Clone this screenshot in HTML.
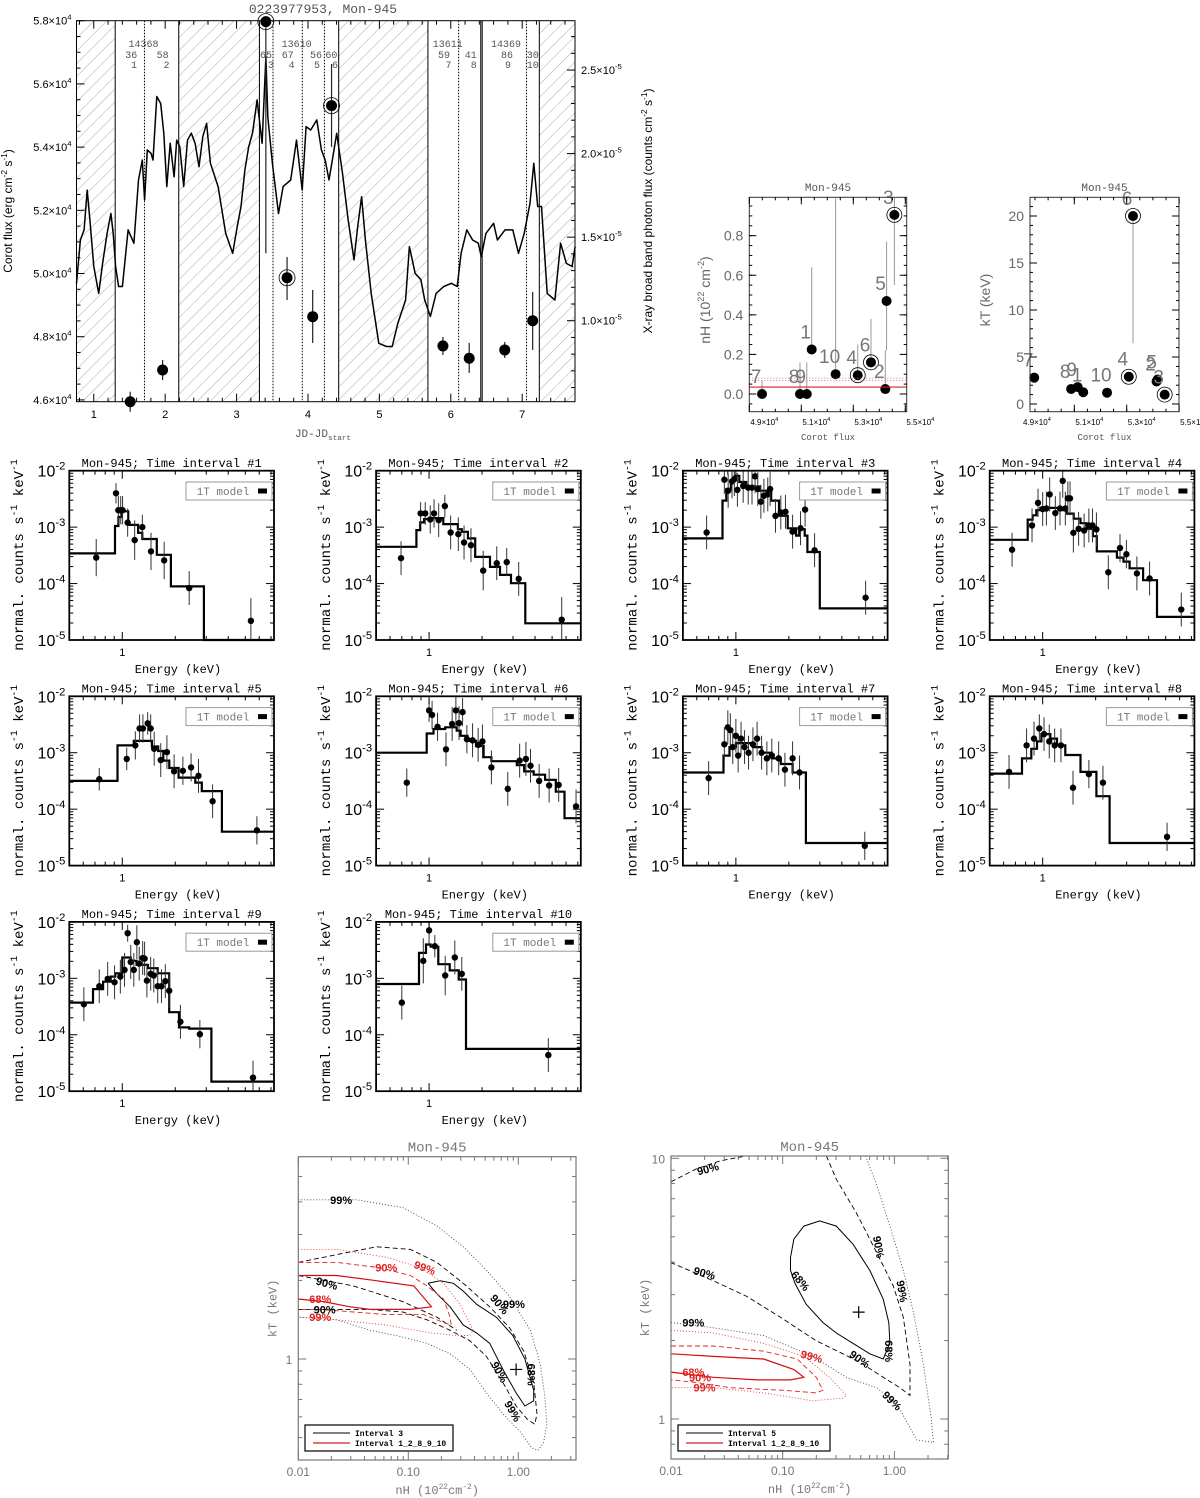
<!DOCTYPE html>
<html><head><meta charset="utf-8"><title>Mon-945</title>
<style>
html,body{margin:0;padding:0;background:#fff;}
svg{display:block;}
text{font-family:"Liberation Mono","DejaVu Sans Mono",monospace;}
.sans{font-family:"Liberation Sans",sans-serif;}
</style></head>
<body>
<svg id="fig" xmlns="http://www.w3.org/2000/svg" width="1200" height="1498" viewBox="0 0 1200 1498">
<defs>
<pattern id="hatch" patternUnits="userSpaceOnUse" width="9" height="9" patternTransform="rotate(45)">
<line x1="0" y1="0" x2="0" y2="9" stroke="#aaa" stroke-width="1"/>
</pattern>
<clipPath id="clipL"><rect x="298.3" y="1156.7" width="277.7" height="303.3"/></clipPath>
<clipPath id="clipR"><rect x="671" y="1156" width="277.3" height="303"/></clipPath>
</defs>
<rect x="0" y="0" width="1200" height="1498" fill="#fff"/>
</svg>
<script>
// ================= LIGHT CURVE DATA =================
const lcDays=[0.758,0.812,0.865,0.908,0.946,1.0,1.069,1.123,1.187,1.24,1.272,1.305,1.347,1.401,1.481,1.562,1.626,1.68,1.712,1.749,1.803,1.83,1.883,1.937,1.98,2.023,2.071,2.125,2.162,2.205,2.259,2.312,2.366,2.419,2.473,2.527,2.58,2.634,2.741,2.848,2.945,3.009,3.062,3.116,3.17,3.223,3.287,3.357,3.41,3.437,3.501,3.587,3.651,3.758,3.839,3.919,3.973,4.038,4.123,4.188,4.241,4.295,4.349,4.402,4.483,4.563,4.644,4.697,4.751,4.804,4.885,4.992,5.099,5.179,5.26,5.367,5.42,5.5,5.581,5.635,5.715,5.795,5.902,6.009,6.09,6.144,6.224,6.305,6.385,6.428,6.492,6.6,6.653,6.76,6.868,6.948,7.029,7.109,7.163,7.217,7.27,7.351,7.458,7.538,7.619,7.699,7.741];
const lcFlux=[4.969,5.106,5.138,5.264,5.169,5.022,4.937,5.032,5.127,5.19,5.127,5.022,4.959,4.959,5.138,5.096,5.296,5.359,5.233,5.391,5.38,5.359,5.56,5.538,5.444,5.275,5.412,5.306,5.422,5.401,5.275,5.422,5.444,5.412,5.338,5.433,5.475,5.349,5.275,5.127,5.064,5.148,5.212,5.328,5.401,5.444,5.549,5.412,5.686,5.496,5.349,5.19,5.275,5.296,5.422,5.264,5.465,5.454,5.486,5.391,5.359,5.296,5.37,5.444,5.317,5.169,5.043,5.148,5.243,5.106,4.937,4.779,4.769,4.769,4.843,4.916,5.085,5.001,4.98,4.916,4.864,4.937,4.959,4.969,4.959,5.064,5.138,5.106,5.096,5.053,5.127,5.159,5.106,5.138,5.138,5.064,5.127,5.222,5.349,5.212,5.212,4.937,4.916,5.096,5.032,5.022,5.085];
const xrDays=[1.51,1.964,3.41,3.707,4.066,4.33,5.89,6.258,6.756,7.147];
const xrRate=[0.515,0.705,2.79,1.257,1.024,2.287,0.849,0.775,0.825,1.0];
const xrLo=[0.455,0.645,1.404,1.124,0.867,2.04,0.795,0.687,0.777,0.825];
const xrHi=[0.575,0.765,2.79,1.381,1.184,2.536,0.903,0.867,0.873,1.172];
const xrCircled=[0,0,1,1,0,1,0,0,0,0];
const hatchStart=[0.758,2.19,4.43,7.24];
const hatchEnd=[1.30,3.32,5.68,7.737];
const solidLines=[1.30,2.19,3.32,4.43,5.68,6.42,6.44,7.24];
const dottedLines=[1.71,3.51,3.92,4.23,6.11,7.06];
const lcXTicks=[1,2,3,4,5,6,7];
const lcYTicks=[4.6,4.8,5.0,5.2,5.4,5.6,5.8];
const lcRTicks=[1.0,1.5,2.0,2.5];

// ================= nH / kT vs Corot flux =================
const nhLabels=['7','8','9','1','10','4','6','2','5','3'];
const nhCorot=[4.949,5.095,5.121,5.14,5.232,5.317,5.368,5.423,5.428,5.458];
const nhVal=[0,0,0,0.225,0.10,0.095,0.16,0.025,0.47,0.905];
const nhLo=[0,0,0,0.225,0.10,0.095,0.16,0.025,0.22,0.55];
const nhHi=[0.07,0.16,0.16,0.64,0.99,0.25,0.38,0.22,0.77,0.99];
const nhCircled=[0,0,0,0,0,1,1,0,0,1];
const nhTicks=[0.0,0.2,0.4,0.6,0.8];
const ktLabels=['7','8','9','1','10','4','6','5','2','3'];
const ktCorot=[4.947,5.088,5.113,5.134,5.225,5.308,5.324,5.418,5.414,5.445];
const ktVal=[2.8,1.6,1.8,1.25,1.2,2.9,20,2.6,2.4,1.0];
const ktLo=[2.3,1.3,1.5,1.0,1.0,2.5,6.45,2.2,2.0,0.9];
const ktHi=[3.3,2.0,2.1,1.5,1.4,3.4,20,3.0,2.8,1.2];
const ktCircled=[0,0,0,0,0,1,1,0,0,1];
const ktTicks=[0,5,10,15,20];
const corotTicks=[4.9,5.1,5.3,5.5];

// ================= SPECTRA (log10 values) =================
const p1E=[0.711,0.921,0.95,0.98,1.004,1.073,1.176,1.3,1.456,1.73,2.4,5.38];
const p1V=[-3.54,-2.40,-2.7,-2.7,-2.7,-2.92,-3.23,-3.0,-3.43,-3.59,-4.08,-4.66];
const p1Err=[0.33,0.18,0.25,0.25,0.25,0.25,0.35,0.22,0.33,0.33,0.3,0.4];
const p1ME=[0.5,0.909,0.95,0.99,1.08,1.23,1.3,1.57,1.89,2.91,7.27];
const p1MV=[-3.465,-2.98,-2.82,-2.72,-2.96,-3.1,-3.21,-3.49,-4.05,-6];
const p2E=[0.693,0.895,0.951,1.015,1.067,1.134,1.229,1.326,1.466,1.58,1.73,2.03,2.424,2.762,3.23,5.67];
const p2V=[-3.55,-2.757,-2.757,-2.864,-2.757,-2.876,-2.627,-3.095,-3.124,-3.272,-3.32,-3.77,-3.64,-3.62,-3.917,-4.64];
const p2Err=[0.3,0.2,0.2,0.25,0.25,0.3,0.2,0.3,0.3,0.3,0.3,0.35,0.3,0.25,0.3,0.4];
const p2ME=[0.5,0.847,0.89,0.937,0.995,1.205,1.458,1.534,1.662,1.828,2.22,2.53,2.92,3.52,7.27];
const p2MV=[-3.349,-3.053,-2.917,-2.858,-2.84,-2.947,-3.036,-3.083,-3.2,-3.527,-3.704,-3.846,-3.994,-4.704];
const p3E=[0.682,0.86,0.904,0.951,0.98,1.02,1.1,1.175,1.235,1.286,1.332,1.387,1.443,1.518,1.565,1.679,1.8,1.913,2.1,2.33,2.473,2.8,5.46];
const p3V=[-3.095,-2.16,-2.355,-2.19,-2.15,-2.34,-2.27,-2.30,-2.30,-2.10,-2.325,-2.55,-2.444,-2.42,-2.325,-2.8,-2.74,-2.728,-3.08,-3.02,-2.69,-3.41,-4.25];
const p3Err=[0.3,0.25,0.3,0.3,0.3,0.3,0.3,0.3,0.3,0.3,0.3,0.3,0.3,0.3,0.3,0.3,0.3,0.3,0.3,0.3,0.3,0.3,0.3];
const p3ME=[0.5,0.839,0.882,0.937,0.985,1.046,1.145,1.366,1.588,1.757,1.97,2.2,2.29,2.46,2.55,3.0,7.27];
const p3MV=[-3.2,-2.53,-2.325,-2.19,-2.09,-2.2,-2.28,-2.355,-2.53,-2.8,-3.02,-3.15,-3.036,-3.15,-3.44,-4.44];
const p4E=[0.67,0.87,0.941,1.0,1.05,1.096,1.18,1.254,1.3,1.345,1.39,1.43,1.494,1.6,1.72,1.83,1.92,2.02,2.36,2.75,2.99,3.43,4.05,6.13];
const p4V=[-3.40,-2.97,-2.57,-2.68,-2.67,-2.42,-2.75,-2.67,-2.18,-2.67,-2.49,-2.49,-3.1,-3.03,-3.06,-2.97,-2.97,-3.04,-3.8,-3.37,-3.48,-3.82,-3.91,-4.46];
const p4Err=[0.3,0.3,0.25,0.3,0.3,0.3,0.3,0.3,0.3,0.3,0.3,0.3,0.35,0.3,0.3,0.3,0.3,0.3,0.3,0.25,0.25,0.3,0.3,0.3];
const p4ME=[0.5,0.822,0.877,0.92,0.97,1.105,1.26,1.375,1.5,1.64,1.77,1.93,2.03,2.64,2.88,3.12,3.72,4.46,7.27];
const p4MV=[-3.225,-2.867,-2.79,-2.70,-2.66,-2.66,-2.70,-2.76,-2.85,-2.93,-3.03,-3.16,-3.43,-3.54,-3.61,-3.73,-3.94,-4.59];
const p5E=[0.74,1.06,1.186,1.254,1.31,1.394,1.45,1.518,1.654,1.793,1.97,2.21,2.46,2.71,3.26,5.82];
const p5V=[-3.47,-3.11,-2.87,-2.57,-2.57,-2.48,-2.57,-2.93,-3.13,-2.99,-3.33,-3.32,-3.26,-3.41,-3.86,-4.375];
const p5Err=[0.2,0.2,0.25,0.25,0.25,0.2,0.25,0.3,0.3,0.3,0.3,0.25,0.25,0.3,0.3,0.25];
const p5ME=[0.5,0.94,1.163,1.473,1.6,1.71,1.85,2.09,2.6,2.83,3.68,7.27];
const p5MV=[-3.5,-2.87,-2.79,-2.89,-2.97,-3.14,-3.27,-3.44,-3.53,-3.68,-4.4];
const p6E=[0.747,1.0,1.04,1.117,1.248,1.352,1.42,1.48,1.55,1.64,1.766,1.9,2.01,2.26,2.8,3.27,3.55,3.77,4.22,4.81,5.45,6.84];
const p6V=[-3.53,-2.25,-2.33,-2.54,-2.94,-2.49,-2.25,-2.475,-2.28,-2.76,-2.78,-2.86,-2.8,-3.26,-3.64,-3.14,-3.11,-3.23,-3.5,-3.58,-3.57,-3.95];
const p6Err=[0.25,0.2,0.25,0.25,0.3,0.3,0.3,0.3,0.25,0.25,0.3,0.3,0.3,0.3,0.3,0.3,0.3,0.3,0.3,0.3,0.3,0.3];
const p6ME=[0.5,0.97,1.06,1.235,1.436,1.51,1.654,1.847,2.04,2.26,3.15,3.47,3.93,4.56,5.25,5.88,7.27];
const p6MV=[-3.0,-2.66,-2.58,-2.55,-2.61,-2.7,-2.79,-2.88,-3.08,-3.15,-3.22,-3.33,-3.39,-3.48,-3.69,-4.16];
const p7E=[0.7,0.86,0.9,0.93,0.96,1.0,1.03,1.07,1.12,1.18,1.25,1.32,1.4,1.5,1.6,1.75,1.9,2.1,2.3,5.4];
const p7V=[-3.45,-2.85,-2.55,-2.6,-2.9,-2.7,-3.05,-2.75,-2.9,-3.0,-2.85,-2.75,-3.0,-3.1,-3.05,-3.1,-3.3,-3.1,-3.35,-4.65];
const p7Err=[0.3,0.3,0.3,0.3,0.3,0.3,0.3,0.3,0.3,0.3,0.3,0.3,0.3,0.3,0.3,0.3,0.3,0.3,0.3,0.25];
const p7ME=[0.5,0.85,0.92,1.0,1.25,1.4,1.6,1.8,2.1,2.5,7.27];
const p7MV=[-3.35,-3.05,-2.9,-2.83,-2.9,-3.0,-3.1,-3.2,-3.35,-4.6];
const p8E=[0.644,0.81,0.893,0.957,1.018,1.09,1.17,1.27,1.487,1.83,2.2,5.09];
const p8V=[-3.34,-2.87,-2.75,-2.57,-2.67,-2.80,-2.87,-2.87,-3.62,-3.38,-3.53,-4.49];
const p8Err=[0.3,0.3,0.3,0.25,0.3,0.3,0.3,0.3,0.3,0.25,0.3,0.25];
const p8ME=[0.5,0.763,0.862,0.929,0.983,1.105,1.206,1.345,1.64,2.02,2.4,7.27];
const p8MV=[-3.37,-3.1,-2.93,-2.80,-2.67,-2.75,-2.87,-3.04,-3.34,-3.77,-4.6];
const p9E=[0.605,0.74,0.826,0.904,0.975,1.03,1.073,1.117,1.163,1.21,1.248,1.306,1.339,1.38,1.45,1.51,1.59,1.67,1.756,1.848,2.14,2.76,5.53];
const p9V=[-3.46,-3.14,-3.01,-3.07,-2.97,-2.85,-2.2,-2.71,-2.85,-2.36,-2.74,-2.64,-2.65,-3.04,-2.92,-2.95,-3.14,-3.14,-3.05,-3.22,-3.77,-3.99,-4.76];
const p9Err=[0.3,0.3,0.3,0.3,0.3,0.3,0.15,0.3,0.3,0.3,0.3,0.3,0.3,0.3,0.3,0.3,0.3,0.3,0.3,0.3,0.3,0.25,0.3];
const p9ME=[0.5,0.682,0.778,0.86,0.913,1.0,1.117,1.204,1.4,1.59,1.848,2.1,2.4,3.21,7.27];
const p9MV=[-3.43,-3.19,-3.06,-2.97,-2.91,-2.63,-2.69,-2.76,-2.82,-2.91,-3.6,-3.87,-3.89,-4.83];
const p10E=[0.7,0.927,1.0,1.078,1.235,1.4,1.534,4.76];
const p10V=[-3.43,-2.69,-2.15,-2.43,-2.95,-2.63,-2.92,-4.36];
const p10Err=[0.3,0.4,0.25,0.2,0.35,0.3,0.3,0.3];
const p10ME=[0.5,0.877,0.96,1.02,1.128,1.31,1.474,1.62,7.27];
const p10MV=[-3.1,-2.55,-2.4,-2.44,-2.75,-2.86,-3.02,-4.25];

// ================= CONTOURS (log10 nH, log10 kT) =================
const cL99x=[-2,-1.47,-1.05,-0.74,-0.50,-0.29,-0.08,0.11,0.20,0.24,0.26,0.23,0.18,0.12,0.02,-0.14,-0.29,-0.44,-0.62,-0.83,-1.11,-1.35,-1.65,-2];
const cL99y=[.61,.61,.58,.51,.43,.34,.24,.11,-.02,-.14,-.25,-.32,-.35,-.34,-.28,-.21,-.13,-.04,.02,.06,.09,.11,.15,.16];
const cL90ax=[-2,-1.65,-1.29,-0.98,-0.74,-0.50,-0.26,-0.08,0.05,0.14,0.17,0.15,0.08,-0.02,-0.14,-0.29,-0.44,-0.62,-0.83,-1.05,-1.35,-1.65,-2];
const cL90ay=[.37,.40,.43,.42,.37,.29,.20,.12,.03,-.09,-.21,-.25,-.23,-.18,-.09,.01,.07,.11,.15,.18,.19,.19,.19];
const cL90bx=[-2,-1.5,-1.05,-0.74,-0.56];
const cL90by=[.32,.28,.22,.16,.11];
const cL68x=[-0.82,-0.71,-0.59,-0.50,-0.38,-0.20,-0.05,0.06,0.14,0.14,0.06,-0.02,-0.14,-0.26,-0.38,-0.50,-0.62,-0.74,-0.82];
const cL68y=[.29,.30,.29,.26,.21,.16,.09,0,-.12,-.16,-.18,-.13,-.04,.06,.10,.13,.20,.25,.29];
const rL68x=[-2,-1.65,-1.29,-0.95,-0.79,-0.98,-1.35,-1.53,-1.77,-2];
const rL68y=[.32,.32,.30,.28,.20,.19,.19,.20,.22,.23];
const rL90x=[-2,-1.65,-1.26,-0.98,-0.83,-0.68,-0.62,-0.61,-0.68,-0.86,-1.20,-1.50,-1.80,-2];
const rL90y=[.37,.37,.35,.32,.28,.23,.16,.13,.14,.17,.17,.18,.19,.19];
const rL99x=[-2,-1.65,-1.20,-0.89,-0.68,-0.53,-0.41,-0.44,-0.56,-0.80,-1.20,-1.65,-2];
const rL99y=[.42,.42,.39,.35,.29,.21,.11,.09,.09,.10,.13,.15,.16];
const bestL=[-0.02,-0.04];
const cR68x=[-0.93,-0.90,-0.81,-0.67,-0.52,-0.37,-0.22,-0.10,-0.05,-0.04,-0.10,-0.22,-0.37,-0.52,-0.64,-0.79,-0.89,-0.93,-0.93];
const cR68y=[.62,.69,.74,.76,.74,.67,.57,.46,.37,.29,.23,.25,.29,.33,.37,.44,.52,.57,.62];
const cR90ax=[-2,-1.77,-1.56,-1.32];
const cR90ay=[.91,.96,.99,1.01];
const cR90bx=[-0.61,-0.52,-0.34,-0.16,-0.01,0.08,0.14,0.14,0.05,-0.10,-0.28,-0.46,-0.70,-1.02,-1.32,-1.62,-2];
const cR90by=[1.01,.92,.79,.64,.51,.39,.21,.09,.12,.16,.21,.25,.30,.39,.47,.53,.60];
const cR99x=[-2,-1.62,-1.17,-0.73,-0.43,-0.16,0.02,0.20,0.35,0.33,0.26,0.17,0.08,-0.04,-0.16,-0.26];
const cR99y=[.37,.35,.32,.24,.16,.12,.06,-.08,-.09,0,.21,.41,.57,.74,.90,1.01];
const rR68x=[-2,-1.62,-1.17,-0.90,-0.81,-0.93,-1.23,-1.62,-2];
const rR68y=[.25,.24,.23,.19,.16,.15,.15,.16,.18];
const rR90x=[-2,-1.62,-1.17,-0.87,-0.70,-0.64,-0.70,-0.99,-1.47,-1.77,-2];
const rR90y=[.28,.28,.26,.23,.16,.11,.10,.11,.12,.14,.15];
const rR99x=[-2,-1.62,-1.17,-0.81,-0.58,-0.43,-0.46,-0.73,-1.17,-1.62,-2];
const rR99y=[.34,.33,.29,.24,.16,.09,.08,.07,.10,.12,.12];
const bestR=[-0.32,0.41];
const labLtxt=['99%','90%','99%','90%','68%','90%','99%','90%','99%','90%','68%','99%'];
const labLx=[-1.61,-1.2,-0.85,-1.74,-1.8,-1.76,-1.8,-0.17,-0.04,-0.17,0.12,-0.05];
const labLy=[.61,.35,.35,.29,.23,.19,.16,.21,.21,-0.05,-0.06,-0.2];
const labLcol=['k','r','r','k','r','k','r','k','k','k','k','k'];
const labLrot=[0,0,20,15,0,0,0,50,0,60,90,60];
const labRtxt=['90%','90%','68%','90%','99%','99%','99%','68%','90%','99%','90%','68%','99%'];
const labRx=[-1.67,-1.70,-0.84,-0.14,0.07,-1.8,-0.74,-1.8,-1.74,-1.7,-0.31,-0.05,-0.02];
const labRy=[.96,.56,.53,.66,.49,.37,.24,.18,.16,.12,.23,.26,.07];
const labRcol=['k','k','k','k','k','k','r','r','r','r','k','k','k'];
const labRrot=[-15,15,50,80,80,0,15,0,0,0,35,90,45];

// ================= helpers =================
const NS='http://www.w3.org/2000/svg';
const svg=document.getElementById('fig');
function mk(tag,parent){const e=document.createElementNS(NS,tag);parent.appendChild(e);return e;}
function at(e,o){for(const k in o)e.setAttribute(k,o[k]);return e;}
function grp(parent,name){const g=mk('g',parent);return g;}
function txt(parent,x,y,s,size,anchor,fill,cls){const t=at(mk('text',parent),{x:x,y:y,'font-size':size,'text-anchor':anchor||'middle',fill:fill||'#000'});if(cls)t.setAttribute('class',cls);t.textContent=s;return t;}
function sup(t,base,ex,dy){t.textContent='';const a=mk('tspan',t);a.textContent=base;const b=at(mk('tspan',t),{dy:dy||-6,'font-size':'70%'});b.textContent=ex;return t;}
function ln(parent,x1,y1,x2,y2,stroke,w,dash){const l=at(mk('line',parent),{x1:x1,y1:y1,x2:x2,y2:y2,stroke:stroke||'#000','stroke-width':w||1});if(dash)l.setAttribute('stroke-dasharray',dash);return l;}

// ================= LIGHT CURVE =================
(function(){
const g=grp(svg,'light-curve-panel');
const L=76.5,R=575,T=20.7,B=401.7;
const X=d=>L+(d-0.758)*71.4;
const Y=f=>T+(5.8-f)/0.2*63.2;
const YR=r=>320.7-(r-1.0)*167.1;
for(let i=0;i<hatchStart.length;i++){
 const h=at(mk('rect',g),{x:X(hatchStart[i]),y:T,width:X(hatchEnd[i])-X(hatchStart[i]),height:B-T,fill:'url(#hatch)'});
 
 
}
solidLines.forEach(d=>{const l=ln(g,X(d),T,X(d),B,'#000',1);
 
 });
dottedLines.forEach(d=>{const l=ln(g,X(d),T,X(d),B,'#000',1,'1.5,1.5');
 
 });
const pts=lcDays.map((d,i)=>X(d).toFixed(1)+','+Y(lcFlux[i]).toFixed(1)).join(' ');
const pl=at(mk('polyline',g),{points:pts,fill:'none',stroke:'#000','stroke-width':1.5,'stroke-linejoin':'round'});


for(let i=0;i<xrDays.length;i++){
 const x=X(xrDays[i]);
 const e=ln(g,x,YR(xrHi[i]),x,YR(xrLo[i]),'#222',1.2);
 
 
 if(xrCircled[i]){const c=at(mk('circle',g),{cx:x,cy:YR(xrRate[i]),r:8,fill:'none',stroke:'#000','stroke-width':0.8});
  
  }
 const c=at(mk('circle',g),{cx:x,cy:YR(xrRate[i]),r:5.5,fill:'#000'});
 
 
}
const box=at(mk('rect',g),{x:L,y:T,width:R-L,height:B-T,fill:'none',stroke:'#000','stroke-width':1});


for(let d=0.8;d<7.74;d+=0.2){const big=Math.abs(d-Math.round(d))<0.01;const s=big?8:4;
 ln(g,X(d),B,X(d),B-s);ln(g,X(d),T,X(d),T+s);}
lcXTicks.forEach(d=>{const t=txt(g,X(d),418,String(d),11,'middle','#000','sans');
 
 });
for(let f=4.6;f<=5.801;f+=0.05){const big=Math.abs(f*5-Math.round(f*5))<0.01;ln(g,L,Y(f),L+(big?8:4),Y(f));}
lcYTicks.forEach(f=>{const t=txt(g,L-5,Y(f)+4,'',11,'end','#000','sans');sup(t,f.toFixed(1)+'×10','4',-5);
 
 });
for(let r=0.5;r<=2.86;r+=0.1){const big=Math.abs(r*2-Math.round(r*2))<0.01;const y=YR(r);if(y<T||y>B)continue;ln(g,R,y,R-(big?8:4),y);}
lcRTicks.forEach(r=>{const t=txt(g,R+6,YR(r)+4,'',11,'start','#000','sans');sup(t,r.toFixed(1)+'×10','-5',-5);
 
 });
const ti=txt(g,323,13,'0223977953, Mon-945',13,'middle','#555');


const xl=txt(g,323,437,'',11,'middle','#555');sup(xl,'JD-JD','start',3);


const yl=at(txt(g,0,0,'',12,'middle','#000','sans'),{transform:'translate(12,211) rotate(-90)'});
yl.textContent='Corot flux (erg cm';const s1=at(mk('tspan',yl),{dy:-5,'font-size':'70%'});s1.textContent='-2';const s2=at(mk('tspan',yl),{dy:5});s2.textContent=' s';const s3=at(mk('tspan',yl),{dy:-5,'font-size':'70%'});s3.textContent='-1';const s4=at(mk('tspan',yl),{dy:5});s4.textContent=')';


const yr=at(txt(g,0,0,'',12,'middle','#000','sans'),{transform:'translate(652,211) rotate(-90)'});
yr.textContent='X-ray broad band photon flux (counts cm';const r1=at(mk('tspan',yr),{dy:-5,'font-size':'70%'});r1.textContent='-2';const r2=at(mk('tspan',yr),{dy:5});r2.textContent=' s';const r3=at(mk('tspan',yr),{dy:-5,'font-size':'70%'});r3.textContent='-1';const r4=at(mk('tspan',yr),{dy:5});r4.textContent=')';


const il=[['14368',143.5,47],['36',131.3,58],['1',134,68],['58',162.6,58],['2',166.5,68],['65',266,58],['3',271,68],['13610',296.6,47],['67',287.8,58],['4',291.6,68],['56',316,58],['5',317,68],['60',331.4,58],['6',335,68],['13611',447.8,47],['59',444,58],['7',448.5,68],['41',470.7,58],['8',473.8,68],['14369',506,47],['86',507,58],['9',508,68],['30',532.7,58],['10',532.7,68]];
il.forEach(a=>{const t=txt(g,a[1],a[2],a[0],10,'middle','#555');
 
 });
})();

// ================= nH / kT scatter =================
function scatterPanel(name,L,R,T,B,X,Y,cor,val,lo,hi,circ,labs,yticks,yfmt,ylab,ytitleX,minorStep,xtickDefs){
 const g=grp(svg,name);
 for(let i=0;i<cor.length;i++){
  const x=X(cor[i]);
  const e=ln(g,x,Y(lo[i]),x,Y(hi[i]),'#999',1);
  
  
 }
 for(let i=0;i<cor.length;i++){
  const x=X(cor[i]),y=Y(val[i]);
  if(circ[i]){const c=at(mk('circle',g),{cx:x,cy:y,r:7.5,fill:'none',stroke:'#000','stroke-width':0.8});
   
   }
  const c=at(mk('circle',g),{cx:x,cy:y,r:5,fill:'#000'});
  
  
  const t=txt(g,x-6,y-11,labs[i],19,'middle','#777','sans');
  
  
 }
 const b=at(mk('rect',g),{x:L,y:T,width:R-L,height:B-T,fill:'none',stroke:'#333','stroke-width':1});
 
 
 yticks.forEach(v=>{ln(g,L,Y(v),L+7,Y(v));ln(g,R,Y(v),R-7,Y(v));
  const t=txt(g,L-6,Y(v)+5,yfmt(v),14,'end','#666','sans');
  
  });
 for(let v=yticks[0]-minorStep*4;v<=yticks[yticks.length-1]+minorStep*4;v+=minorStep){const y=Y(v);if(y<T||y>B)continue;ln(g,L,y,L+3,y);ln(g,R,y,R-3,y);}
 xtickDefs.forEach(c=>{const x=X(c);if(x>=L-1&&x<=R+1){ln(g,x,B,x,B-7);ln(g,x,T,x,T+7);}
  const t=txt(g,x+15,425,'',8,'middle','#000','sans');sup(t,c.toFixed(1)+'×10','4',-4);
  
  });
 for(let c=4.85;c<5.55;c+=0.05){const x=X(c);if(x<L||x>R)continue;ln(g,x,B,x,B-3);ln(g,x,T,x,T+3);}
 const tt=txt(g,(L+R)/2,191,'Mon-945',11,'middle','#555');
 
 
 const xl=txt(g,(L+R)/2,440,'Corot flux',9,'middle','#555');
 
 
 return g;
}
(function(){
 const L=749.3,R=906.7,T=197.3,B=411.7;
 const X=c=>L+(c-4.9)/0.2*52;
 const Y=v=>394-v*197.9;
 const g=scatterPanel('nh-vs-corot-panel',L,R,T,B,X,Y,nhCorot,nhVal,nhLo,nhHi,nhCircled,nhLabels,nhTicks,v=>v.toFixed(1),'',0,0.05,corotTicks);
 const r1=ln(g,L,Y(0.035),R,Y(0.035),'#d02030',1.2);
 
 
 const r2=ln(g,L,Y(0.068),R,Y(0.068),'#e07080',1,'1,2');
 
 
 const r3=ln(g,L,Y(0.08),R,Y(0.08),'#e07080',1,'1,2');
 
 
 const yl=at(txt(g,0,0,'',14,'middle','#666','sans'),{transform:'translate(710,300) rotate(-90)'});
 yl.textContent='nH (10';const a=at(mk('tspan',yl),{dy:-6,'font-size':'65%'});a.textContent='22';const b=at(mk('tspan',yl),{dy:6});b.textContent=' cm';const c=at(mk('tspan',yl),{dy:-6,'font-size':'65%'});c.textContent='-2';const d=at(mk('tspan',yl),{dy:6});d.textContent=')';
 
 
})();
(function(){
 const L=1030,R=1179,T=197.3,B=411.7;
 const X=c=>1021.9+(c-4.9)/0.2*52.4;
 const Y=v=>404-v*9.4;
 const g=scatterPanel('kt-vs-corot-panel',L,R,T,B,X,Y,ktCorot,ktVal,ktLo,ktHi,ktCircled,ktLabels,ktTicks,v=>String(v),'',0,1,corotTicks);
 const yl=at(txt(g,0,0,'kT (keV)',14,'middle','#666','sans'),{transform:'translate(990,300) rotate(-90)'});
 
 
})();

// ================= SPECTRA =================
const spE=[p1E,p2E,p3E,p4E,p5E,p6E,p7E,p8E,p9E,p10E];
const spV=[p1V,p2V,p3V,p4V,p5V,p6V,p7V,p8V,p9V,p10V];
const spErr=[p1Err,p2Err,p3Err,p4Err,p5Err,p6Err,p7Err,p8Err,p9Err,p10Err];
const spME=[p1ME,p2ME,p3ME,p4ME,p5ME,p6ME,p7ME,p8ME,p9ME,p10ME];
const spMV=[p1MV,p2MV,p3MV,p4MV,p5MV,p6MV,p7MV,p8MV,p9MV,p10MV];
for(let k=0;k<10;k++){
 const ox=(k%4)*306.8, oy=Math.floor(k/4)*225.6;
 const g=grp(svg,'spectrum-panel-'+(k+1));
 const L=ox+69.3,R=ox+274,T=oy+470.7,B=oy+640;
 const X=E=>L+(Math.log10(E)+0.301)*176;
 const Y=v=>T+(-2-Math.max(-5,Math.min(-2,v)))*56.43;
 const me=spME[k],mv=spMV[k];let d='';
 for(let i=0;i<mv.length;i++){d+=(i===0?'M':'L')+X(me[i]).toFixed(1)+','+Y(mv[i]).toFixed(1)+' L'+X(me[i+1]).toFixed(1)+','+Y(mv[i]).toFixed(1)+' ';}
 const mp=at(mk('path',g),{d:d,fill:'none',stroke:'#000','stroke-width':2.2});
 
 
 const E=spE[k],V=spV[k],ER=spErr[k];
 for(let i=0;i<E.length;i++){
  const x=X(E[i]);
  const e=ln(g,x,Y(V[i]+ER[i]),x,Y(V[i]-ER[i]),'#333',1);
  
  
  const c=at(mk('circle',g),{cx:x,cy:Y(V[i]),r:3.2,fill:'#000'});
  
  
 }
 const b=at(mk('rect',g),{x:L,y:T,width:R-L,height:B-T,fill:'none',stroke:'#000','stroke-width':1.8});
 
 
 [0.6,0.7,0.8,0.9,1,2,3,4,5,6,7].forEach(e=>{const s=e===1?8:4;ln(g,X(e),B,X(e),B-s);ln(g,X(e),T,X(e),T+s);});
 for(let dec=-5;dec<-2;dec++){for(let m=1;m<10;m++){const v=dec+Math.log10(m);const s=m===1?8:4;ln(g,L,Y(v),L+s,Y(v));ln(g,R,Y(v),R-s,Y(v));}}
 [-2,-3,-4,-5].forEach(v=>{const t=txt(g,L-4,Y(v)+6,'',16,'end','#000','sans');sup(t,'10',String(v),-7);
  
  });
 const one=txt(g,X(1),B+16,'1',11,'middle','#000','sans');
 
 
 const tt=txt(g,(L+R)/2,oy+467,'Mon-945; Time interval #'+(k+1),12,'middle','#000');
 
 
 const xl=txt(g,ox+178,oy+673,'Energy (keV)',12,'middle','#000');
 
 
 const yl=at(txt(g,0,0,'',14,'middle','#000'),{transform:'translate('+(ox+23)+','+(oy+555)+') rotate(-90)'});
 yl.textContent='normal. counts s';const a=at(mk('tspan',yl),{dy:-6,'font-size':'70%'});a.textContent='-1';const bb=at(mk('tspan',yl),{dy:6});bb.textContent=' keV';const c=at(mk('tspan',yl),{dy:-6,'font-size':'70%'});c.textContent='-1';
 
 
 const lg=grp(g,'legend');
 at(mk('rect',lg),{x:ox+186,y:oy+482,width:86,height:18,fill:'#fff',stroke:'#999','stroke-width':1});
 txt(lg,ox+223,oy+495,'1T model',11,'middle','#777');
 at(mk('rect',lg),{x:ox+258,y:oy+488.5,width:9,height:5,fill:'#000'});
}

// ================= CONTOURS =================
function contourPanel(name,L,R,T,B,X,Y,clip,sets,best,labT,labX,labY,labC,labR,legendBox,legendLine1,yTickVals,yTickLabels){
 const g=grp(svg,name);
 const cg=at(mk('g',g),{'clip-path':'url(#'+clip+')'});
 sets.forEach(s=>{
  const pts=s.x.map((v,i)=>X(v).toFixed(1)+','+Y(s.y[i]).toFixed(1)).join(' ');
  const p=at(mk('polyline',cg),{points:pts,fill:'none',stroke:s.col,'stroke-width':s.w});
  if(s.dash)p.setAttribute('stroke-dasharray',s.dash);
  
  
 });
 const bx=X(best[0]),by=Y(best[1]);
 const bp=at(mk('path',g),{d:'M'+(bx-6)+','+by+' H'+(bx+6)+' M'+bx+','+(by-6)+' V'+(by+6),stroke:'#000','stroke-width':1.2});
 
 
 for(let i=0;i<labT.length;i++){
  const x=X(labX[i]),y=Y(labY[i]);
  const t=txt(g,x,y+4,labT[i],11,'middle',labC[i]==='r'?'#e02020':'#000','sans');
  t.setAttribute('font-weight','bold');
  t.setAttribute('transform','rotate('+labR[i]+' '+x+' '+y+')');
  
  
 }
 const b=at(mk('rect',g),{x:L,y:T,width:R-L,height:B-T,fill:'none',stroke:'#777','stroke-width':1.2});
 
 
 for(let dec=-2;dec<=0;dec++){for(let m=1;m<10;m++){const v=dec+Math.log10(m);const x=X(v);if(x>R)continue;const s=m===1?8:4;ln(g,x,B,x,B-s,'#777');ln(g,x,T,x,T+s,'#777');}}
 [-2,-1,0].forEach((v,i)=>{const t=txt(g,X(v),B+16,['0.01','0.10','1.00'][i],12,'middle','#777','sans');
  
  });
 for(let m=0.4;m<=10.01;m+=(m<0.99?0.1:1)){const v=Math.log10(m);const y=Y(v);if(y<T||y>B)continue;const big=Math.abs(m-1)<0.01||Math.abs(m-10)<0.01;ln(g,L,y,L+(big?8:4),y,'#777');ln(g,R,y,R-(big?8:4),y,'#777');}
 yTickVals.forEach((v,i)=>{const t=txt(g,L-6,Y(v)+5,yTickLabels[i],12,'end','#777','sans');
  
  });
 const tt=txt(g,(L+R)/2,T-5,'Mon-945',14,'middle','#777');
 
 
 const xl=txt(g,(L+R)/2,B+34,'',12,'middle','#777');
 xl.textContent='nH (10';const a=at(mk('tspan',xl),{dy:-5,'font-size':'65%'});a.textContent='22';const b2=at(mk('tspan',xl),{dy:5});b2.textContent='cm';const c=at(mk('tspan',xl),{dy:-5,'font-size':'65%'});c.textContent='-2';const d=at(mk('tspan',xl),{dy:5});d.textContent=')';
 
 
 const yl=at(txt(g,0,0,'kT (keV)',12,'middle','#777'),{transform:'translate('+(L-22)+','+((T+B)/2)+') rotate(-90)'});
 
 
 const lg=grp(g,'contour-legend');
 at(mk('rect',lg),{x:legendBox[0],y:legendBox[1],width:legendBox[2],height:26,fill:'#fff',stroke:'#000','stroke-width':1.2});
 ln(lg,legendBox[0]+8,legendBox[1]+8,legendBox[0]+45,legendBox[1]+8,'#000',1);
 ln(lg,legendBox[0]+8,legendBox[1]+18,legendBox[0]+45,legendBox[1]+18,'#d02020',1.2);
 const t1=txt(lg,legendBox[0]+50,legendBox[1]+11,legendLine1,8,'start','#000');t1.setAttribute('font-weight','bold');
 const t2=txt(lg,legendBox[0]+50,legendBox[1]+21,'Interval 1_2_8_9_10',8,'start','#000');t2.setAttribute('font-weight','bold');
}
(function(){
 const L=298.3,R=576,T=1156.7,B=1460;
 const X=l=>L+(l+2)*110;
 const Y=l=>1359-l*261;
 contourPanel('contour-panel-interval-3',L,R,T,B,X,Y,'clipL',[
  {x:cL99x,y:cL99y,col:'#444',w:0.9,dash:'1,2',name:'contour-99-interval3'},
  {x:cL90ax,y:cL90ay,col:'#000',w:0.9,dash:'5,3',name:'contour-90-interval3'},
  {x:cL90bx,y:cL90by,col:'#000',w:0.9,dash:'5,3',name:'contour-90-interval3'},
  {x:cL68x,y:cL68y,col:'#000',w:1,dash:'',name:'contour-68-interval3'},
  {x:rL99x,y:rL99y,col:'#e04040',w:0.9,dash:'1,2',name:'contour-99-combined'},
  {x:rL90x,y:rL90y,col:'#e02020',w:0.9,dash:'5,3',name:'contour-90-combined'},
  {x:rL68x,y:rL68y,col:'#d01010',w:1.2,dash:'',name:'contour-68-combined'}
 ],bestL,labLtxt,labLx,labLy,labLcol,labLrot,[305,1425,148],'Interval 3',[0],['1']);
})();
(function(){
 const L=671,R=948.3,T=1156,B=1459;
 const X=l=>L+(l+2)*111.7;
 const Y=l=>1419-l*260.7;
 contourPanel('contour-panel-interval-5',L,R,T,B,X,Y,'clipR',[
  {x:cR99x,y:cR99y,col:'#444',w:0.9,dash:'1,2',name:'contour-99-interval5'},
  {x:cR90ax,y:cR90ay,col:'#000',w:0.9,dash:'5,3',name:'contour-90-interval5'},
  {x:cR90bx,y:cR90by,col:'#000',w:0.9,dash:'5,3',name:'contour-90-interval5'},
  {x:cR68x,y:cR68y,col:'#000',w:1,dash:'',name:'contour-68-interval5'},
  {x:rR99x,y:rR99y,col:'#e04040',w:0.9,dash:'1,2',name:'contour-99-combined'},
  {x:rR90x,y:rR90y,col:'#e02020',w:0.9,dash:'5,3',name:'contour-90-combined'},
  {x:rR68x,y:rR68y,col:'#d01010',w:1.2,dash:'',name:'contour-68-combined'}
 ],bestR,labRtxt,labRx,labRy,labRcol,labRrot,[678,1425,152],'Interval 5',[0,1],['1','10']);
})();
</script>
</body></html>
